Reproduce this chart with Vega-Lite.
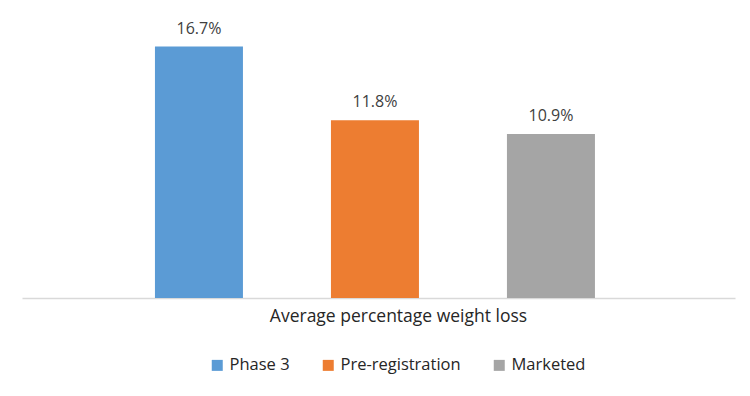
{
  "$schema": "https://vega.github.io/schema/vega-lite/v6.json",
  "autosize": "none",
  "width": 713,
  "height": 271,
  "padding": {"left": 22, "top": 27, "right": 15, "bottom": 98},
  "background": "white",
  "config": {"view": {"stroke": null}, "font": "Open Sans"},
  "data": {"values": [
    {"stage": "Phase 3", "value": 0.167},
    {"stage": "Pre-registration", "value": 0.118},
    {"stage": "Marketed", "value": 0.109}
  ]},
  "encoding": {
    "x": {"field": "stage", "type": "nominal", "sort": null,
      "scale": {"paddingInner": 0.5, "paddingOuter": 0.7756, "align": 0.487},
      "axis": {"labels": false, "ticks": false, "domainColor": "#D9D9D9", "domainWidth": 1.3,
        "title": "Average percentage weight loss", "titleFont": "Open Sans", "titleFontSize": 17.5, "titleFontWeight": "normal",
        "titleColor": "#262626", "titleX": 376, "titleY": 23, "titleAlign": "center", "titleBaseline": "alphabetic"}},
    "y": {"field": "value", "type": "quantitative", "scale": {"domain": [0, 0.18], "nice": false}, "axis": null}
  },
  "layer": [
    {"mark": {"type": "bar"},
     "encoding": {"color": {"field": "stage", "type": "nominal", "sort": null,
       "scale": {"domain": ["Phase 3", "Pre-registration", "Marketed"], "range": ["#5B9BD5", "#ED7D31", "#A5A5A5"]},
       "legend": {"title": null, "orient": "none", "direction": "horizontal", "legendX": 187, "legendY": 330,
         "symbolType": "square", "symbolSize": 121, "symbolStrokeWidth": 0, "labelFont": "Open Sans", "labelFontSize": 16.5,
         "labelColor": "#262626", "labelOffset": 4, "columnPadding": 30, "padding": 0}}}},
    {"mark": {"type": "text", "baseline": "alphabetic", "dy": -13, "font": "Open Sans", "fontSize": 16, "color": "#404040"},
     "encoding": {"text": {"field": "value", "type": "quantitative", "format": ".1%"}}}
  ]
}
